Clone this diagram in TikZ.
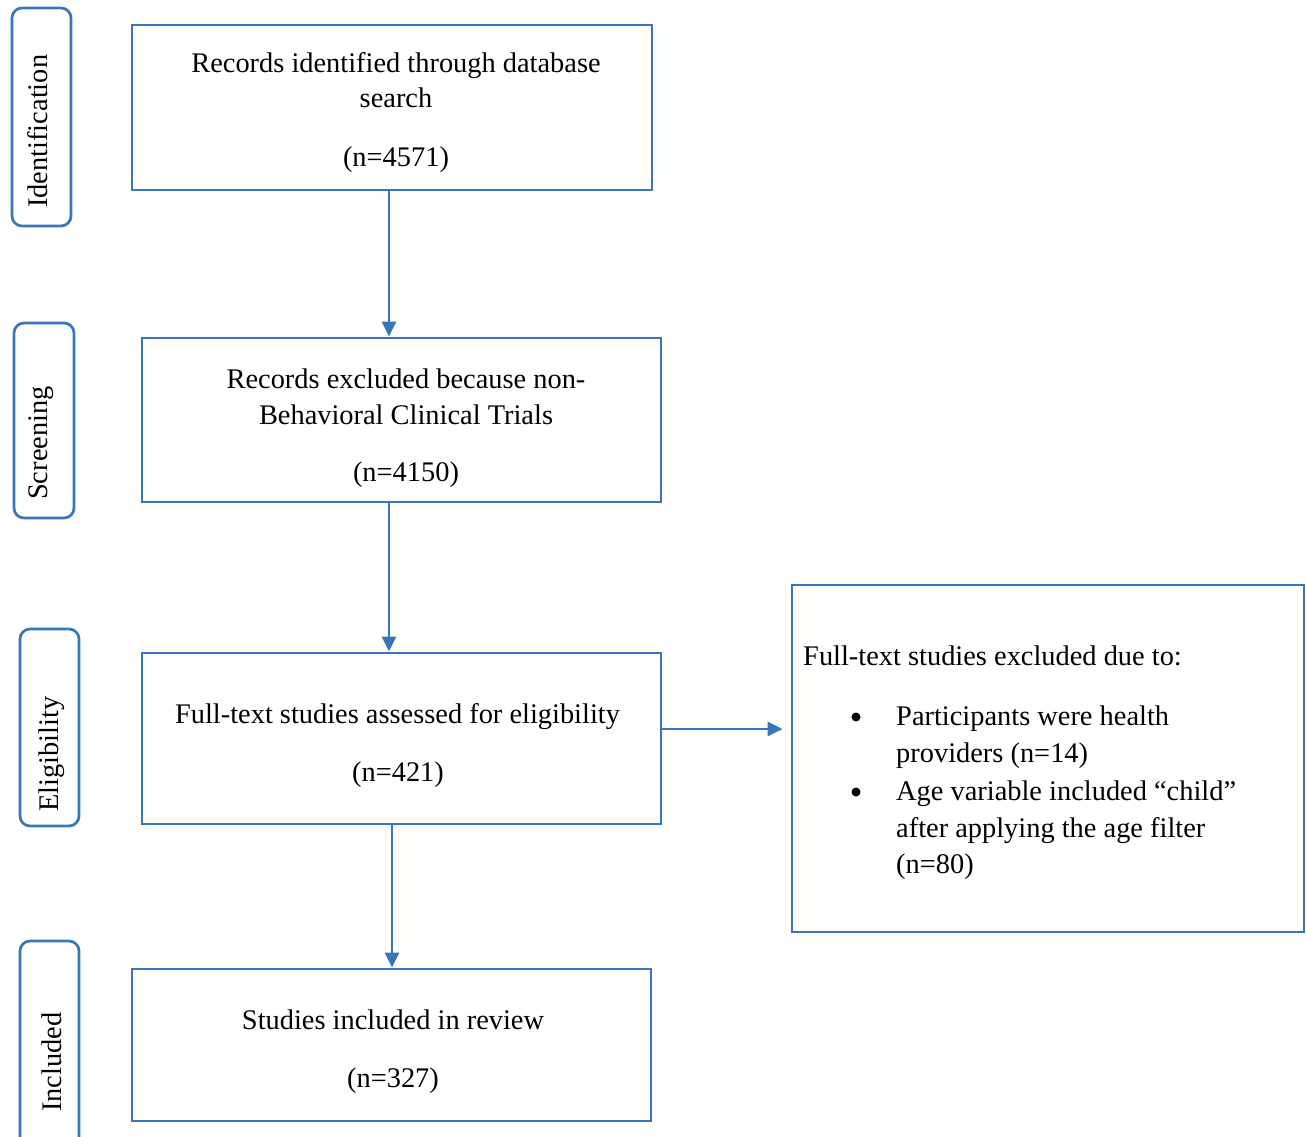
\documentclass[tikz,border=0pt]{standalone}
\usepackage{fontspec}
\setmainfont{Liberation Serif}
\usetikzlibrary{arrows.meta}
\definecolor{flowblue}{RGB}{55,118,185}
\begin{document}
\begin{tikzpicture}[x=1pt,y=-1pt,
  box/.style={draw=flowblue,line width=2.7pt,inner sep=0pt,fill=none},
  sidebox/.style={draw=flowblue,line width=2.7pt,rounded corners=10pt,inner sep=0pt},
  txt/.style={inner sep=0pt,anchor=base,font=\fontsize{28.4}{35}\selectfont},
  ltxt/.style={inner sep=0pt,anchor=base west,font=\fontsize{28.4}{35}\selectfont},
  rtxt/.style={inner sep=0pt,anchor=base west,rotate=90,font=\fontsize{28.4}{35}\selectfont},
  bullet/.style={circle,fill=black,inner sep=0pt,minimum size=9pt},
  arr/.style={draw=flowblue,line width=2.7pt,-{Triangle[length=15pt,width=14pt]}}
]
\useasboundingbox (0,0) rectangle (1306,1137);

% side labels
\node[sidebox,minimum width=59pt,minimum height=218pt] (s1) at (41.5,117) {};
\node[rtxt] (l1) at (47,208) {Identification};
\node[sidebox,minimum width=60pt,minimum height=195pt] (s2) at (44,420.5) {};
\node[rtxt] (l2) at (47,500) {Screening};
\node[sidebox,minimum width=59pt,minimum height=197pt] (s3) at (49.5,727.5) {};
\node[rtxt] (l3) at (58,812) {Eligibility};
\node[sidebox,minimum width=59pt,minimum height=220pt] (s4) at (49.5,1051) {};
\node[rtxt] (l4) at (61,1112) {Included};

% main boxes
\node[box,minimum width=520pt,minimum height=165pt] (b1) at (392,107.5) {};
\node[txt] (t1a) at (396,73) {Records identified through database};
\node[txt] (t1b) at (396,108) {search};
\node[txt] (t1c) at (396,166) {(n=4571)};

\node[box,minimum width=519pt,minimum height=164pt] (b2) at (401.5,420) {};
\node[txt] (t2a) at (406,388) {Records excluded because non-};
\node[txt] (t2b) at (406,424) {Behavioral Clinical Trials};
\node[txt] (t2c) at (406,481) {(n=4150)};

\node[box,minimum width=519pt,minimum height=171pt] (b3) at (401.5,738.5) {};
\node[txt] (t3a) at (397.5,723) {Full-text studies assessed for eligibility};
\node[txt] (t3b) at (398,781) {(n=421)};

\node[box,minimum width=519pt,minimum height=152pt] (b4) at (391.5,1045) {};
\node[txt] (t4a) at (393,1029) {Studies included in review};
\node[txt] (t4b) at (393,1087) {(n=327)};

\node[box,minimum width=512pt,minimum height=347pt] (b5) at (1048,758.5) {};
\node[ltxt] (t5a) at (803,665) {Full-text studies excluded due to:};
\node[bullet] (bu1) at (856,717) {};
\node[ltxt] (t5b) at (896,725) {Participants were health};
\node[ltxt] (t5c) at (896,762) {providers (n=14)};
\node[bullet] (bu2) at (856,792) {};
\node[ltxt] (t5d) at (896,800) {Age variable included “child”};
\node[ltxt] (t5e) at (896,837) {after applying the age filter};
\node[ltxt] (t5f) at (896,873) {(n=80)};

% arrows
\draw[arr] ([xshift=-3pt]b1.south) -- ([xshift=-3pt]b1.south |- b2.north);
\draw[arr] ([xshift=-12.5pt]b2.south) -- ([xshift=-12.5pt]b2.south |- b3.north);
\draw[arr] ([xshift=-9.5pt]b3.south) -- ([xshift=-9.5pt]b3.south |- b4.north);
\draw[arr,shorten >=8pt] ([yshift=9.5pt]b3.east) -- ([yshift=9.5pt]b3.east -| b5.west);
\end{tikzpicture}
\end{document}
